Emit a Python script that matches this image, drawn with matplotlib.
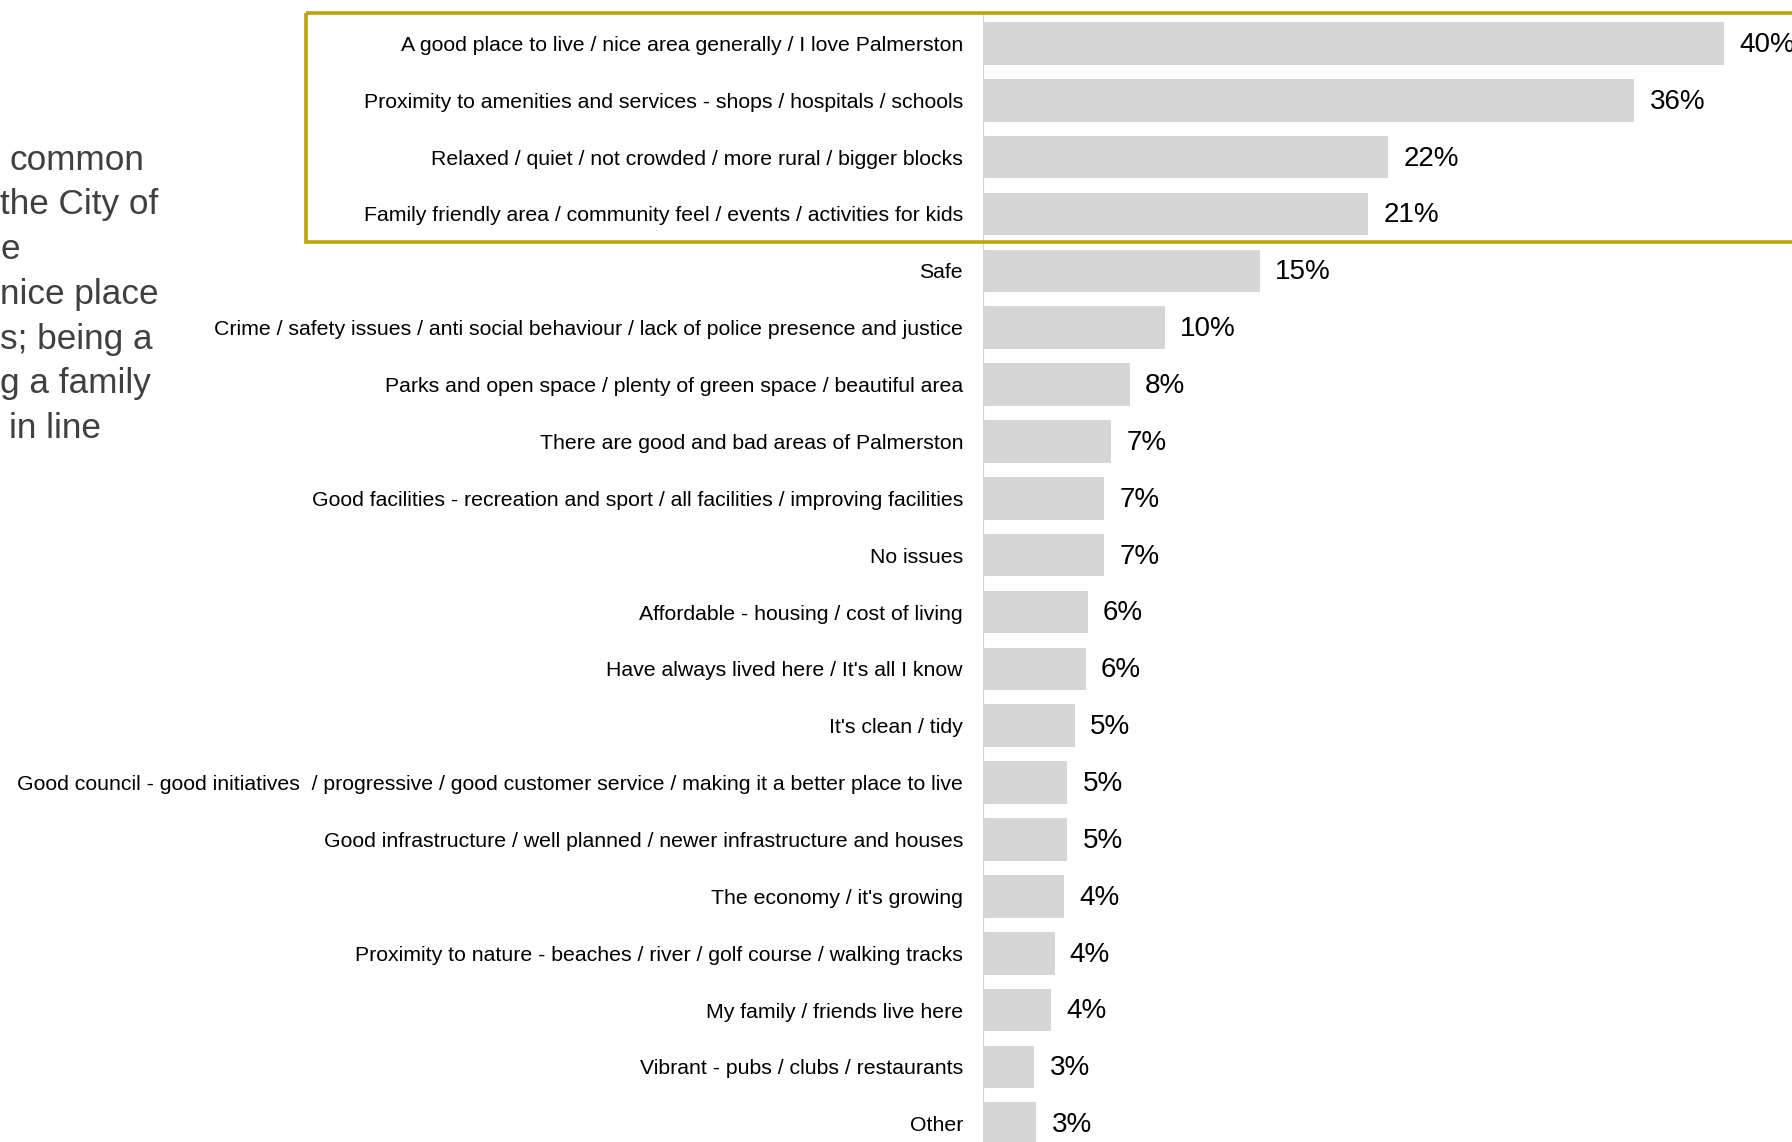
import matplotlib.pyplot as plt
import matplotlib.transforms as mtransforms
from matplotlib.patches import Rectangle

# reasons given for liking the area (% of respondents)
categories = [
    "A good place to live / nice area generally / I love Palmerston",
    "Proximity to amenities and services - shops / hospitals / schools",
    "Relaxed / quiet / not crowded / more rural / bigger blocks",
    "Family friendly area / community feel / events / activities for kids",
    "Safe",
    "Crime / safety issues / anti social behaviour / lack of police presence and justice",
    "Parks and open space / plenty of green space / beautiful area",
    "There are good and bad areas of Palmerston",
    "Good facilities - recreation and sport / all facilities / improving facilities",
    "No issues",
    "Affordable - housing / cost of living",
    "Have always lived here / It's all I know",
    "It's clean / tidy",
    "Good council - good initiatives  / progressive / good customer service / making it a better place to live",
    "Good infrastructure / well planned / newer infrastructure and houses",
    "The economy / it's growing",
    "Proximity to nature - beaches / river / golf course / walking tracks",
    "My family / friends live here",
    "Vibrant - pubs / clubs / restaurants",
    "Other",
]
values = [40.4, 35.5, 22.1, 21.0, 15.1, 9.9, 8.0, 7.0, 6.6, 6.6,
          5.7, 5.6, 5.0, 4.6, 4.6, 4.4, 3.9, 3.7, 2.8, 2.9]
top_n = 4

# fragments of the commentary block on the left of the slide
side_text = ["common", "the City of", "e", "nice place", "s; being a", "g a family", "in line"]
side_x = [9, 0, 0, 0, 0, 0, 9]

plt.rcParams['font.family'] = ['Liberation Sans', 'DejaVu Sans']

W, H = 1792, 1142
fig = plt.figure(figsize=(W / 100, H / 100), dpi=100)
ax = fig.add_axes([983 / W, 0, 1 - 983 / W, 1])

pos = list(range(len(categories)))
ax.barh(pos, values, height=0.75, color='#D6D6D6', edgecolor='none')
ax.set_xlim(0, 44.1)
ax.set_ylim(19.32, -0.763)

for i, v in zip(pos, values):
    ax.annotate(f"{v:.0f}%", (v, i), xytext=(11, -1), textcoords='offset points',
                ha='left', va='center', fontsize=20, color='black')

ax.set_yticks(pos)
ax.set_yticklabels(categories, fontsize=15.3)
ax.tick_params(axis='y', length=0, pad=14.4)
ax.set_xticks([])
for s in ax.spines.values():
    s.set_visible(False)
ax.vlines(0, -0.55, 19.32, color='#D0D0D0', lw=1.5, zorder=0)

# highlight box around the top reasons
trans = mtransforms.blended_transform_factory(fig.transFigure, ax.transData)
box = Rectangle((306 / W, -0.54), 1.0, top_n + 0.03, transform=trans,
                fill=False, edgecolor='#C0A108', lw=2.6, clip_on=False)
fig.patches.append(box)

line_step = 44.8
for k, (txt, x0) in enumerate(zip(side_text, side_x)):
    fig.text(x0 / W, 1 - (160 + k * line_step) / H, txt, ha='left', va='center',
             fontsize=25.3, color='#404040')

fig.savefig('out.png', dpi=100)
